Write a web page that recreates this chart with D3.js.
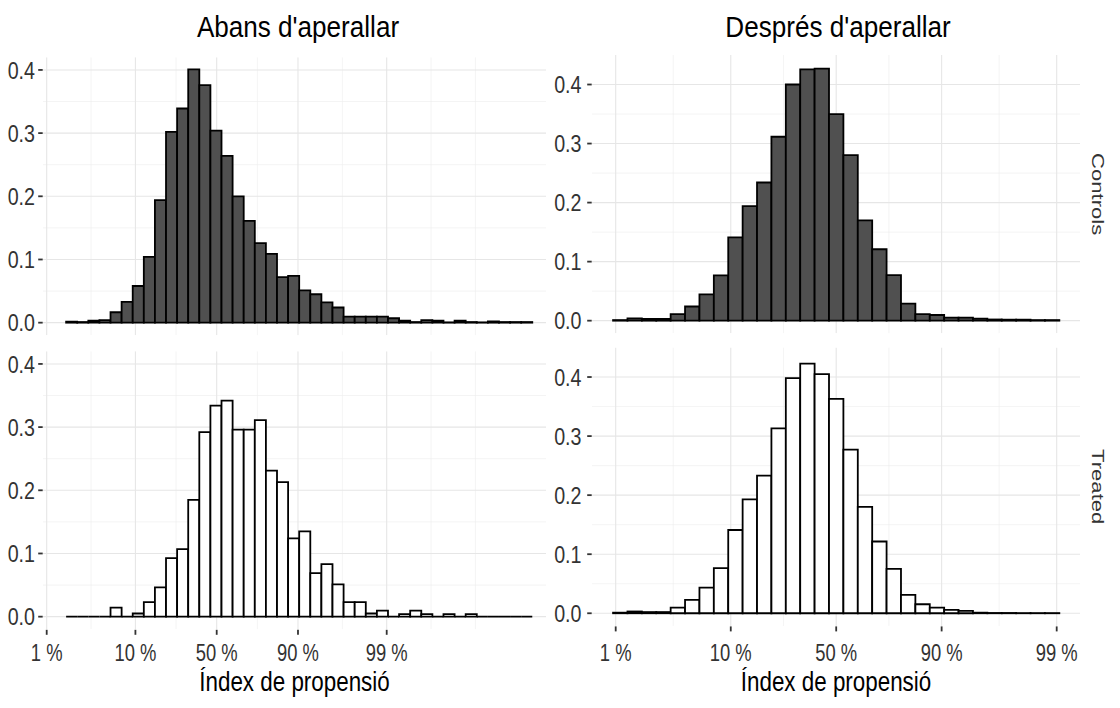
<!DOCTYPE html>
<html><head><meta charset="utf-8">
<script src="https://cdn.jsdelivr.net/npm/d3@7"></script>
<style>body{margin:0;background:#fff}svg{display:block}</style>
</head><body>
<script>
// ---------- data ----------
const columns = ["Abans d'aperallar", "Després d'aperallar"];
const rows = ["Controls", "Treated"];
const xTickProbs = [0.01, 0.1, 0.5, 0.9, 0.99];
const xTickLabels = ["1 %", "10 %", "50 %", "90 %", "99 %"];
const yTicks = [0, 0.1, 0.2, 0.3, 0.4];
const yTickLabels = ["0.0", "0.1", "0.2", "0.3", "0.4"];
const xTitle = "Índex de propensió";
// bins on logit scale
const binStartBefore = -4.07, binStartAfter = -4.65, binWidth = 0.3;
const beforeControls = [0.0016,0.001,0.003,0.004,0.0165,0.033,0.058,0.104,0.194,0.302,0.339,0.401,0.376,0.304,0.264,0.200,0.161,0.126,0.109,0.072,0.074,0.051,0.045,0.032,0.024,0.0095,0.0095,0.0095,0.0095,0.007,0.003,0.001,0.004,0.003,0.0005,0.003,0.001,0.0005,0.002,0.001,0.001,0.001];
const beforeTreated = [0,0,0,0,0.0143,0,0.005,0.023,0.0465,0.0925,0.107,0.185,0.292,0.334,0.342,0.296,0.296,0.311,0.231,0.213,0.124,0.135,0.069,0.083,0.051,0.023,0.023,0.005,0.0095,0,0.004,0.0095,0.004,0,0.004,0,0.004,0,0,0,0,0];
const afterControls = [0.001,0.004,0.003,0.003,0.011,0.024,0.0446,0.0768,0.141,0.194,0.234,0.3115,0.400,0.4255,0.427,0.350,0.2805,0.170,0.121,0.077,0.029,0.011,0.0096,0.005,0.005,0.0034,0.002,0.0017,0.0017,0.001,0.001];
const afterTreated = [0.001,0.003,0.002,0.002,0.0096,0.0226,0.0435,0.0763,0.141,0.193,0.233,0.313,0.398,0.4226,0.405,0.363,0.277,0.18,0.1215,0.075,0.031,0.0153,0.0096,0.0056,0.004,0.001,0.0005,0.0005,0.0003,0.0003,0.0003];

// ---------- layout ----------
const W = 1120, H = 708;
const FONT = "'Liberation Sans', Arial, Helvetica, sans-serif";
const logit = p => Math.log(p / (1 - p));
const fills = {Controls: "#505050", Treated: "#ffffff"};

const cols = [
  { title: columns[0], titleX: 298, xTickRange: [46.7, 386.7], panelX: [43, 546],
    yDomain: [-0.02, 0.42], panelsY: [[57.3, 335.3], [351.3, 629.3]],
    binStart: binStartBefore, data: {Controls: beforeControls, Treated: beforeTreated},
    yLabelEnd: 35, strip: false },
  { title: columns[1], titleX: 838, xTickRange: [615.7, 1056.7], panelX: [592, 1080],
    yDomain: [-0.0214, 0.45], panelsY: [[55, 333.3], [347.5, 625.9]],
    binStart: binStartAfter, data: {Controls: afterControls, Treated: afterTreated},
    yLabelEnd: 581.5, strip: true }
];

const svg = d3.select("body").append("svg").attr("width", W).attr("height", H)
  .style("font-family", FONT);

function addText(g, x, y, str, size, sx, anchor, rot, fill) {
  return g.append("text")
    .attr("transform", `translate(${x},${y}) rotate(${rot || 0}) scale(${sx},1)`)
    .attr("text-anchor", anchor).attr("font-size", size)
    .attr("fill", fill || "#000").text(str);
}

cols.forEach(c => {
  const x = d3.scaleLinear()
    .domain([logit(xTickProbs[0]), logit(xTickProbs[xTickProbs.length - 1])])
    .range(c.xTickRange);
  const xMajor = xTickProbs.map(logit);
  const bd = xMajor[1] - xMajor[0];
  const ext = [xMajor[0] - bd, ...xMajor, xMajor[xMajor.length - 1] + bd];
  const xMinor = [];
  for (let i = 0; i < ext.length - 1; i++) xMinor.push((ext[i] + ext[i + 1]) / 2);
  xMinor.push(ext[0], ext[ext.length - 1]);
  const [px0, px1] = c.panelX;

  // title
  addText(svg, c.titleX, 37, c.title, 29, 0.9, "middle");

  rows.forEach((r, ri) => {
    const [py0, py1] = c.panelsY[ri];
    const y = d3.scaleLinear().domain(c.yDomain).range([py1, py0]);
    const g = svg.append("g");
    const clipId = `clip${c.binStart}${ri}`.replace(/[^a-z0-9]/gi, "");
    svg.append("clipPath").attr("id", clipId).append("rect")
      .attr("x", px0).attr("y", py0).attr("width", px1 - px0).attr("height", py1 - py0);
    const grid = g.append("g").attr("clip-path", `url(#${clipId})`);
    // minor grid
    const yMinor = [0.05, 0.15, 0.25, 0.35, 0.45].filter(v => v < c.yDomain[1]);
    grid.selectAll(".ym").data(yMinor).join("line")
      .attr("x1", px0).attr("x2", px1).attr("y1", d => y(d)).attr("y2", d => y(d))
      .attr("stroke", "#ececec").attr("stroke-width", 0.6);
    grid.selectAll(".xm").data(xMinor).join("line")
      .attr("y1", py0).attr("y2", py1).attr("x1", d => x(d)).attr("x2", d => x(d))
      .attr("stroke", "#ececec").attr("stroke-width", 0.6);
    // major grid
    grid.selectAll(".yM").data(yTicks).join("line")
      .attr("x1", px0).attr("x2", px1).attr("y1", d => y(d)).attr("y2", d => y(d))
      .attr("stroke", "#e6e6e6").attr("stroke-width", 1.1);
    grid.selectAll(".xM").data(xMajor).join("line")
      .attr("y1", py0).attr("y2", py1).attr("x1", d => x(d)).attr("x2", d => x(d))
      .attr("stroke", "#e6e6e6").attr("stroke-width", 1.1);

    // bars (paths so zero-height bins still show their outline)
    const vals = c.data[r];
    g.selectAll(".bar").data(vals).join("path")
      .attr("d", (d, i) => {
        const x0 = x(c.binStart + i * binWidth), x1 = x(c.binStart + (i + 1) * binWidth);
        const y0 = y(0), y1 = y(d);
        return `M${x0},${y0}V${y1}H${x1}V${y0}Z`;
      })
      .attr("fill", fills[r]).attr("stroke", "#000").attr("stroke-width", 1.8)
      .attr("stroke-linejoin", "miter");

    // y axis ticks + labels
    yTicks.forEach((t, i) => {
      g.append("line").attr("x1", px0 - 4.8).attr("x2", px0 - 0.3)
        .attr("y1", y(t)).attr("y2", y(t)).attr("stroke", "#333").attr("stroke-width", 1.8);
      addText(g, c.yLabelEnd, y(t) + 8.8, yTickLabels[i], 24, 0.82, "end", 0, "#333");
    });

    // x axis on bottom row
    if (ri === rows.length - 1) {
      xMajor.forEach((t, i) => {
        g.append("line").attr("x1", x(t)).attr("x2", x(t))
          .attr("y1", py1 + 0.5).attr("y2", py1 + 5.5).attr("stroke", "#333").attr("stroke-width", 1.8);
        addText(g, x(t), 661, xTickLabels[i], 23, 0.8, "middle", 0, "#333");
      });
      addText(g, (px0 + px1) / 2, 691, xTitle, 28, 0.8, "middle");
    }

    // strip label
    if (c.strip) {
      addText(g, 1091.5, (py0 + py1) / 2, r, 17, 1.3, "middle", 90, "#333");
    }
  });
});
</script>
</body></html>
